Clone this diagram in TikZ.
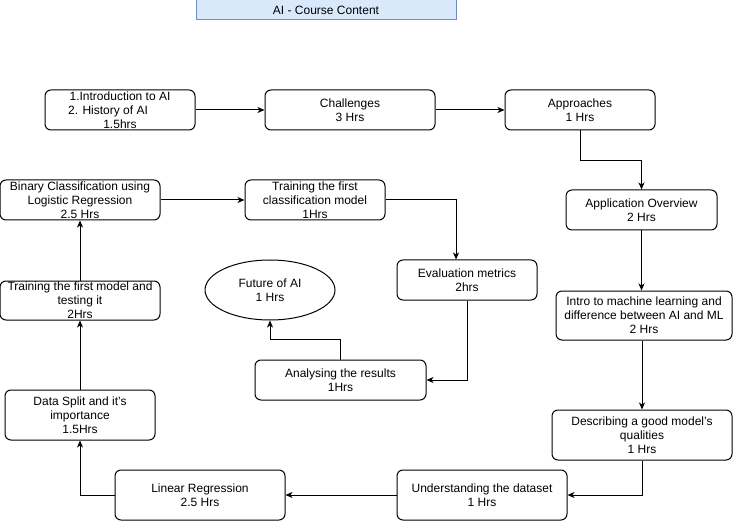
\documentclass[tikz,border=0pt]{standalone}
\usepackage{fontspec}
\setmainfont{Liberation Sans}
\usetikzlibrary{arrows.meta,shapes.geometric}
\begin{document}
\begin{tikzpicture}[x=1pt,y=-1pt,
  box/.style={draw=black,line width=1pt,rounded corners=6pt,align=center,
    inner sep=0pt,font=\fontsize{12}{14}\selectfont},
  oval/.style={draw=black,line width=1pt,ellipse,align=center,
    inner sep=0pt,font=\fontsize{12}{14}\selectfont},
  titlebox/.style={draw={rgb,255:red,108;green,142;blue,191},fill={rgb,255:red,218;green,232;blue,252},
    line width=1pt,align=center,inner sep=0pt,font=\fontsize{12}{14}\selectfont},
  conn/.style={line width=1pt,-{Stealth[length=7pt,width=6pt,inset=2pt]}}]
\useasboundingbox (0,0) rectangle (733,521);
\node[titlebox,minimum width=260pt,minimum height=20pt] (t) at (326,10) {AI - Course Content};
\node[box,minimum width=150pt,minimum height=40pt] (n1) at (120,110) {1.Introduction to AI\\\mbox{2. History of AI}\kern24pt\\1.5hrs};
\node[box,minimum width=170pt,minimum height=40pt] (n2) at (350,110) {Challenges\\3 Hrs};
\node[box,minimum width=150pt,minimum height=40pt] (n3) at (580,110) {Approaches\\1 Hrs};
\node[box,minimum width=151pt,minimum height=40pt] (n4) at (641.5,210) {Application Overview\\2 Hrs};
\node[box,minimum width=176pt,minimum height=49pt] (n5) at (644,315.5) {Intro to machine learning and\\difference between AI and ML\\2 Hrs};
\node[box,minimum width=180pt,minimum height=50pt] (n6) at (642,435) {Describing a good model's\\qualities\\1 Hrs};
\node[box,minimum width=170pt,minimum height=50pt] (n7) at (482,495) {Understanding the dataset\\1 Hrs};
\node[box,minimum width=170pt,minimum height=50pt] (n8) at (200,495) {Linear Regression\\2.5 Hrs};
\node[box,minimum width=150pt,minimum height=50pt] (n9) at (80,415) {Data Split and it's\\importance\\1.5Hrs};
\node[box,minimum width=160pt,minimum height=39pt] (n10) at (80,300.5) {Training the first model and\\testing it\\2Hrs};
\node[box,minimum width=160pt,minimum height=40pt] (n11) at (80,200) {Binary Classification using\\Logistic Regression\\2.5 Hrs};
\node[box,minimum width=140pt,minimum height=40pt] (n12) at (315,200) {Training the first\\classification model\\1Hrs};
\node[box,minimum width=140pt,minimum height=40pt] (n13) at (467,280) {Evaluation metrics\\2hrs};
\node[box,minimum width=171pt,minimum height=40pt] (n14) at (340.5,380) {Analysing the results\\1Hrs};
\node[oval,minimum width=130pt,minimum height=60pt] (n15) at (270,290) {Future of AI\\1 Hrs};
\draw[conn] (n1.east) -- (n2.west);
\draw[conn] (n2.east) -- (n3.west);
\draw[conn] (n3.south) -- ++(0,30) -| (n4.north);
\draw[conn] (n4.south) -- (n4.south |- n5.north);
\draw[conn] (n5.south -| n6.north) -- (n6.north);
\draw[conn] (n6.south) |- (n7.east);
\draw[conn] (n7.west) -- (n8.east);
\draw[conn] (n8.west) -| (n9.south);
\draw[conn] (n9.north) -- (n10.south);
\draw[conn] (n10.north) -- (n11.south);
\draw[conn] (n11.east) -- (n12.west);
\draw[conn] (n12.east) -| ([xshift=-11pt]n13.north);
\draw[conn] (n13.south) |- (n14.east);
\draw[conn] (n14.north) -- ++(0,-20) -| (n15.south);
\end{tikzpicture}
\end{document}
